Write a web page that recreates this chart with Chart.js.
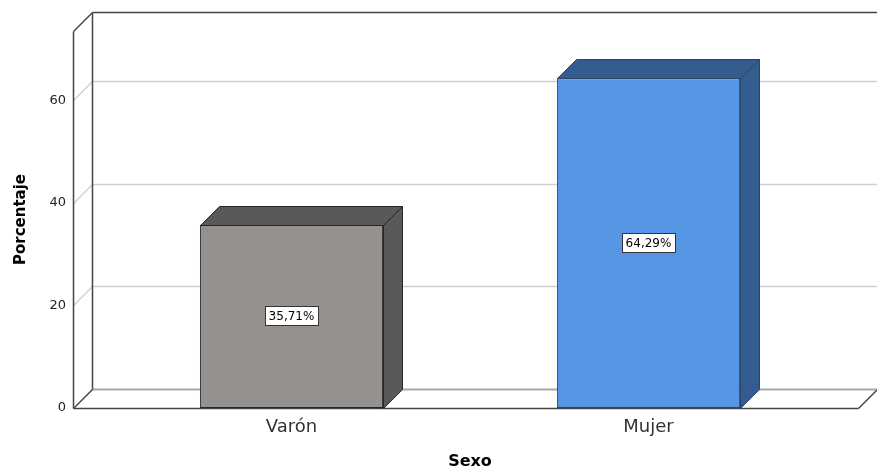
<!DOCTYPE html>
<html>
<head>
<meta charset="utf-8">
<script src="https://cdn.jsdelivr.net/npm/chart.js@4.4.0/dist/chart.umd.min.js"></script>
<style>
    html, body { margin: 0; padding: 0; background: #ffffff; }
    #wrap { width: 877px; height: 470px; }
</style>
</head>
<body>
<div id="wrap"><canvas id="chart"></canvas></div>
<script>
// Chart data
const categories = ['Varón', 'Mujer'];
const percentages = [35.71, 64.29];
const percentLabels = ['35,71%', '64,29%'];
const yTicks = [0, 20, 40, 60];
const yMax = 73.5;

// Bar colours (front face, top/side faces, outline)
const frontColors = ['#95918f', '#5597e4'];
const shadeColors = ['#5b5957', '#345c8e'];
const edgeColors = ['#262626', '#2c4468'];

const FONT = 'DejaVu Sans';
const DX = 19;   // depth of the 3D box, to the right
const DY = 19;   // depth of the 3D box, upwards

const px = v => Math.round(v) + 0.5;

const line = (ctx, x1, y1, x2, y2) => {
    ctx.beginPath();
    ctx.moveTo(x1, y1);
    ctx.lineTo(x2, y2);
    ctx.stroke();
};

// Draws the walls and floor of the box behind the bars
const boxPlugin = {
    id: 'box3d',
    beforeDatasetsDraw(chart) {
        const { ctx, chartArea, scales: { y } } = chart;
        const left = px(chartArea.left - 40);
        const right = px(chartArea.right + 31);
        const top = px(y.getPixelForValue(yMax));
        const bottom = px(y.getPixelForValue(0));

        ctx.save();

        // gridlines on the back wall and the left wall
        ctx.strokeStyle = '#d0d0d0';
        ctx.lineWidth = 1.5;
        yTicks.forEach(v => {
            if (v === 0) return;
            const py = px(y.getPixelForValue(v));
            line(ctx, left, py, left + DX, py - DY);
            line(ctx, left + DX, py - DY, right + DX, py - DY);
        });

        // back edge of the floor
        ctx.strokeStyle = '#a8a8a8';
        ctx.lineWidth = 2;
        line(ctx, left + DX, bottom - DY, right + DX, bottom - DY);

        // outline
        ctx.strokeStyle = '#444444';
        ctx.lineWidth = 1.5;
        line(ctx, left, top, left, bottom);
        line(ctx, left + DX, top - DY, left + DX, bottom - DY);
        line(ctx, left, top, left + DX, top - DY);
        line(ctx, left + DX, top - DY, right + DX, top - DY);
        line(ctx, left, bottom, left + DX, bottom - DY);
        line(ctx, right, bottom, right + DX, bottom - DY);
        line(ctx, left, bottom, right, bottom);

        ctx.restore();
    },
    afterDatasetsDraw(chart) {
        const { ctx } = chart;
        const meta = chart.getDatasetMeta(0);

        ctx.save();
        meta.data.forEach((bar, i) => {
            const { x, y, base, width } = bar.getProps(['x', 'y', 'base', 'width'], true);
            const l = px(x - width / 2);
            const r = px(x + width / 2);
            const t = px(y);
            const b = px(base);

            ctx.fillStyle = shadeColors[i];
            ctx.strokeStyle = edgeColors[i];
            ctx.lineWidth = 1;

            // top face
            ctx.beginPath();
            ctx.moveTo(l, t);
            ctx.lineTo(l + DX, t - DY);
            ctx.lineTo(r + DX, t - DY);
            ctx.lineTo(r, t);
            ctx.closePath();
            ctx.fill();
            ctx.stroke();

            // side face
            ctx.beginPath();
            ctx.moveTo(r, t);
            ctx.lineTo(r + DX, t - DY);
            ctx.lineTo(r + DX, b - DY);
            ctx.lineTo(r, b);
            ctx.closePath();
            ctx.fill();
            ctx.stroke();

            // value label in a white box
            ctx.font = `12px "${FONT}"`;
            ctx.textAlign = 'center';
            ctx.textBaseline = 'middle';
            const text = percentLabels[i];
            const tw = ctx.measureText(text).width;
            const cy = Math.round((y + base) / 2);
            const bw = Math.round(tw + 8);
            const bh = 20;
            const bx = Math.round(x - bw / 2);
            ctx.fillStyle = '#ffffff';
            ctx.fillRect(bx, cy - bh / 2, bw, bh);
            ctx.strokeStyle = '#333333';
            ctx.strokeRect(bx + 0.5, cy - bh / 2 + 0.5, bw - 1, bh - 1);
            ctx.fillStyle = '#000000';
            ctx.fillText(text, x, cy + 1);
        });
        ctx.restore();
    }
};

const ctx = document.getElementById('chart').getContext('2d');
new Chart(ctx, {
    type: 'bar',
    data: {
        labels: categories,
        datasets: [{
            data: percentages,
            backgroundColor: frontColors,
            borderColor: edgeColors,
            borderWidth: 1,
            borderSkipped: false,
            categoryPercentage: 1,
            barPercentage: 0.513
        }]
    },
    options: {
        responsive: true,
        maintainAspectRatio: false,
        animation: false,
        layout: {
            padding: { left: 0, right: 50, top: 31, bottom: 0 }
        },
        scales: {
            x: {
                afterFit: s => { s.height = 62; },
                grid: { display: false, drawTicks: false },
                border: { display: false },
                ticks: {
                    padding: 9,
                    color: '#333333',
                    font: { family: FONT, size: 18 }
                },
                title: {
                    display: true,
                    text: 'Sexo',
                    color: '#000000',
                    padding: { top: 0, bottom: 0 },
                    font: { family: FONT, size: 16, weight: 'bold', lineHeight: 1 }
                }
            },
            y: {
                min: 0,
                max: yMax,
                // wide axis box so the labels sit left of the 3D frame;
                // drop the tick padding from the vertical layout padding
                afterFit: s => {
                    s.width = 113;
                    s.paddingTop = 0;
                    s.paddingBottom = 0;
                },
                afterBuildTicks: s => { s.ticks = yTicks.map(v => ({ value: v })); },
                grid: { display: false, drawTicks: false },
                border: { display: false },
                ticks: {
                    padding: 47,
                    color: '#222222',
                    font: { family: FONT, size: 13 }
                },
                title: {
                    display: true,
                    text: 'Porcentaje',
                    color: '#000000',
                    padding: { top: 14, bottom: 0 },
                    font: { family: FONT, size: 15, weight: 'bold', lineHeight: 1 }
                }
            }
        },
        plugins: {
            legend: { display: false },
            tooltip: { enabled: false }
        }
    },
    plugins: [boxPlugin]
});
</script>
</body>
</html>
